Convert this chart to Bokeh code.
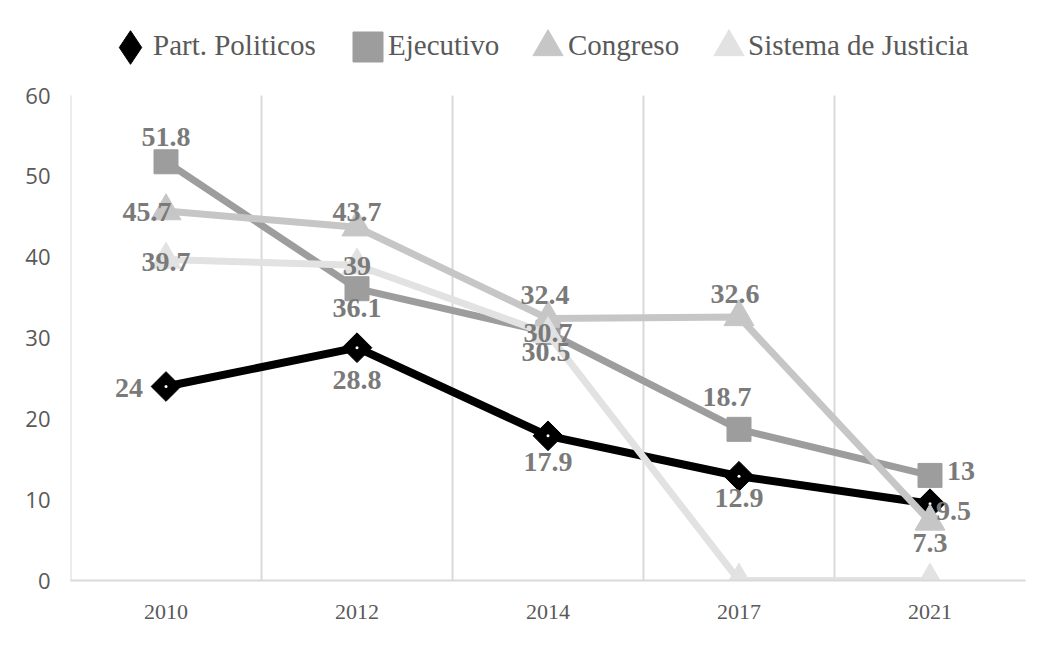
import numpy as np
from bokeh.plotting import figure
from bokeh.models import ColumnDataSource, FixedTicker, Legend, LegendItem, Range1d
from bokeh.core.properties import value
from bokeh.embed import file_html
from bokeh.resources import INLINE

# ---------------- data ----------------
categories = ["2010", "2012", "2014", "2017", "2021"]
series_names = ["Part. Politicos", "Ejecutivo", "Congreso", "Sistema de Justicia"]
part_politicos = [24, 28.8, 17.9, 12.9, 9.5]
ejecutivo = [51.8, 36.1, 30.7, 18.7, 13]
congreso = [45.7, 43.7, 32.4, 32.6, 7.3]
sistema_justicia = [39.7, 39, 30.5, 0, 0]
y_ticks = [0, 10, 20, 30, 40, 50, 60]
y_max = 60

# ---------------- styles ----------------
colors = ["#000000", "#9d9d9d", "#c6c6c6", "#e2e2e2"]
line_widths = [8, 7, 7, 7]
markers = ["square", "square", "triangle", "triangle"]
marker_sizes = [21, 24, 30, 30]
marker_angles = [np.pi / 4, 0, 0, 0]
legend_markers = ["diamond", "square", "triangle", "triangle"]
# per-label placement: (dx px, dy px, align) or None for no label
label_place = [
    [(-23, 1, "right"), (0, 32, "center"), (0, 26, "center"), (0, 22, "center"), (6, 7, "left")],
    [(0, -25, "center"), (0, 19, "center"), (0, 1, "center"), (-12, -32, "center"), (17, -4, "left")],
    [(-19, 1, "center"), (0, -15, "center"), (-3, -24, "center"), (-4, -23, "center"), (0, 22, "center")],
    [(0, 2, "center"), (0, 1, "center"), (-2, 18, "center"), None, None],
]
# legend symbols: (box px, x of left from frame left, y of bottom from frame bottom)
legend_symbol_place = [(84, 18, 491), (75, 260, 496), (75, 440, 496), (75, 621, 496)]
# legend texts: (x of left from frame left, y of bottom from frame bottom)
legend_text_place = [(82, 518), (317, 518), (497, 518), (677, 518)]
# plot frame extends above the 60 line to hold the legend (px: 485 for 0..60, 580 total)
frame_top_value = y_max * 580 / 485

all_series = [part_politicos, ejecutivo, congreso, sistema_justicia]
xs = [i + 0.5 for i in range(len(categories))]

p = figure(width=1040, height=637, output_backend="svg", toolbar_location=None,
           x_range=Range1d(0, len(categories)), y_range=Range1d(0, frame_top_value),
           min_border_left=70, min_border_right=15, min_border_top=0, min_border_bottom=57)
p.outline_line_color = None
p.background_fill_color = "white"
p.border_fill_color = "white"

# axes
p.xaxis.ticker = FixedTicker(ticks=xs)
p.xaxis.major_label_overrides = {x: c for x, c in zip(xs, categories)}
p.xaxis.major_label_text_font = "Liberation Serif"
p.xaxis.major_label_text_font_size = "22px"
p.xaxis.major_label_text_color = "#595959"
p.xaxis.major_label_standoff = 18
p.xaxis.axis_line_color = "#d9d9d9"
p.xaxis.axis_line_width = 2
p.yaxis.ticker = FixedTicker(ticks=y_ticks)
p.yaxis.major_label_text_font = "Open Sans"
p.yaxis.major_label_text_font_size = "22px"
p.yaxis.major_label_text_color = "#595959"
p.yaxis.major_label_standoff = 14
p.yaxis.axis_line_color = None
for ax in (p.xaxis, p.yaxis):
    ax.major_tick_line_color = None
    ax.minor_tick_line_color = None
p.xgrid.grid_line_color = None
p.ygrid.grid_line_color = None

# vertical gridlines at category boundaries + y axis line, only up to 60
bounds = list(range(0, len(categories)))
p.segment(x0=bounds, y0=[0] * len(bounds), x1=bounds, y1=[y_max] * len(bounds),
          line_color="#d9d9d9", line_width=2)

for k, (name, vals) in enumerate(zip(series_names, all_series)):
    src = ColumnDataSource(dict(x=xs, y=vals))
    p.line("x", "y", source=src, line_color=colors[k], line_width=line_widths[k],
           line_join="round")
    p.scatter("x", "y", source=src, marker=markers[k], size=marker_sizes[k],
              angle=marker_angles[k], fill_color=colors[k], line_color=colors[k])
    if k == 0:
        p.scatter("x", "y", source=src, marker="circle", size=3,
                  fill_color="white", line_color=None)

# data labels
for k, vals in enumerate(all_series):
    lx, ly, lt, dx, dy, al = [], [], [], [], [], []
    for i, v in enumerate(vals):
        pl = label_place[k][i]
        if pl is None:
            continue
        lx.append(xs[i]); ly.append(v); lt.append(f"{v:g}")
        dx.append(pl[0]); dy.append(pl[1]); al.append(pl[2])
    lsrc = ColumnDataSource(dict(x=lx, y=ly, t=lt, dx=dx, dy=dy, al=al))
    p.text("x", "y", text="t", source=lsrc, x_offset="dx", y_offset="dy",
           text_align="al", text_baseline="middle",
           text_font=value("Liberation Serif"), text_font_style="bold",
           text_font_size="28px", text_color="#7a7a7a")

# legend: symbol-only entries (legend-only renderers, never drawn in the plot)
# and text-only entries
invisible = p.scatter(x=[np.nan], y=[np.nan], marker="circle", size=1,
                      fill_alpha=0, line_alpha=0)
for k, name in enumerate(series_names):
    sym = p.scatter(x=[np.nan], y=[np.nan], marker=legend_markers[k], size=10,
                    fill_color=colors[k], line_color=colors[k])
    box, sx, sy = legend_symbol_place[k]
    p.add_layout(Legend(items=[LegendItem(label=" ", renderers=[sym])],
                        location=(sx, sy), glyph_width=box, glyph_height=box,
                        label_standoff=0, label_width=1, label_height=box,
                        label_text_font_size="1px", border_line_color=None,
                        background_fill_alpha=0, margin=0, padding=0), "center")
    tx, ty = legend_text_place[k]
    p.add_layout(Legend(items=[LegendItem(label=name, renderers=[invisible])],
                        location=(tx, ty), glyph_width=1, glyph_height=30,
                        label_standoff=0, label_height=30,
                        label_text_font="Liberation Serif", label_text_font_size="29px",
                        label_text_color="#595959", border_line_color=None,
                        background_fill_alpha=0, margin=0, padding=0), "center")

open("out.html", "w").write(file_html(p, INLINE))
